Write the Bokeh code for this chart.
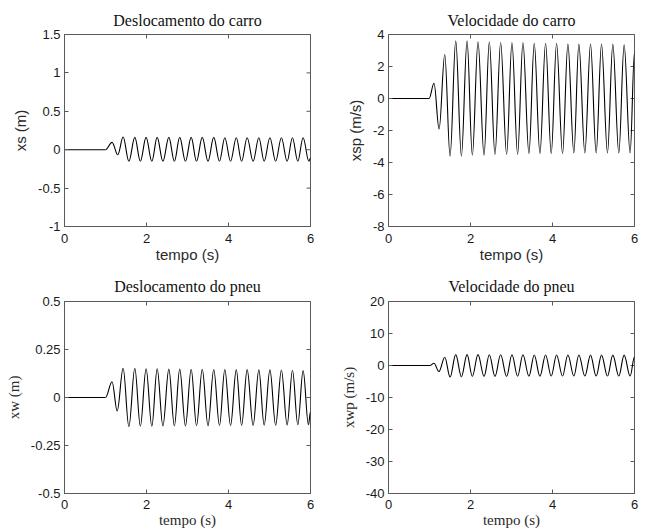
import numpy as np
from bokeh.plotting import figure
from bokeh.layouts import column, row
from bokeh.models import ColumnDataSource, FixedTicker, Range1d
from bokeh.embed import file_html
from bokeh.resources import INLINE

# ---------------- data (extrema) ----------------
x_ticks = [0, 2, 4, 6]
x_tick_labels = ["0", "2", "4", "6"]

# Deslocamento do carro  (xs)
xs_t = [0.0, 1.00, 1.16, 1.30, 1.43, 1.57, 1.715, 1.85, 1.99, 2.13, 2.26, 2.40,
        2.545, 2.68, 2.81, 2.95, 3.09, 3.22, 3.36, 3.50, 3.64, 3.78, 3.91, 4.05,
        4.19, 4.32, 4.455, 4.60, 4.74, 4.87, 5.01, 5.15, 5.29, 5.43, 5.56, 5.69,
        5.82, 5.96, 6.00]
xs_v = [0, 0, 0.095, -0.065, 0.165, -0.15, 0.16, -0.15, 0.16, -0.15, 0.16, -0.15,
        0.16, -0.15, 0.16, -0.15, 0.16, -0.15, 0.16, -0.15, 0.16, -0.15, 0.155, -0.15,
        0.155, -0.15, 0.155, -0.15, 0.155, -0.15, 0.155, -0.15, 0.155, -0.15, 0.155, -0.15,
        0.155, -0.15, -0.11]
xs_ticks = [-1, -0.5, 0, 0.5, 1, 1.5]
xs_tick_labels = ["-1", "-0.5", "0", "0.5", "1", "1.5"]

# Velocidade do carro  (xsp)
xsp_t = [0.0, 0.99, 1.11, 1.234, 1.372, 1.502, 1.64, 1.778, 1.916, 2.045, 2.183, 2.33,
         2.459, 2.597, 2.735, 2.881, 3.011, 3.149, 3.279, 3.425, 3.555, 3.693, 3.831, 3.969,
         4.099, 4.245, 4.375, 4.521, 4.643, 4.789, 4.927, 5.065, 5.195, 5.341, 5.471, 5.617,
         5.747, 5.893, 6.00]
xsp_v = [0, 0, 0.95, -1.9, 2.75, -3.6, 3.6, -3.6, 3.6, -3.55, 3.55, -3.55,
         3.55, -3.5, 3.5, -3.5, 3.5, -3.5, 3.5, -3.45, 3.45, -3.45, 3.45, -3.45,
         3.45, -3.45, 3.4, -3.4, 3.4, -3.4, 3.4, -3.4, 3.4, -3.4, 3.4, -3.4,
         3.35, -3.4, 2.9]
xsp_ticks = [-8, -6, -4, -2, 0, 2, 4]
xsp_tick_labels = ["-8", "-6", "-4", "-2", "0", "2", "4"]

# Deslocamento do pneu  (xw)
xw_t = [0.0, 1.00, 1.16, 1.285, 1.43, 1.57, 1.715, 1.85, 1.99, 2.13, 2.26, 2.40,
        2.545, 2.68, 2.81, 2.95, 3.09, 3.22, 3.36, 3.50, 3.64, 3.78, 3.91, 4.05,
        4.19, 4.32, 4.455, 4.60, 4.74, 4.87, 5.01, 5.15, 5.29, 5.43, 5.56, 5.69,
        5.82, 5.95, 6.00]
xw_v = [0, 0, 0.082, -0.07, 0.152, -0.152, 0.152, -0.15, 0.15, -0.15, 0.15, -0.148,
        0.148, -0.148, 0.148, -0.148, 0.147, -0.147, 0.147, -0.147, 0.146, -0.146, 0.146, -0.146,
        0.145, -0.145, 0.145, -0.145, 0.144, -0.144, 0.144, -0.144, 0.143, -0.143, 0.142, -0.142,
        0.14, -0.142, -0.075]
xw_ticks = [-0.5, -0.25, 0, 0.25, 0.5]
xw_tick_labels = ["-0.5", "-0.25", "0", "0.25", "0.5"]

# Velocidade do pneu  (xwp)
xwp_t = [0.0, 1.01, 1.11, 1.23, 1.372, 1.502, 1.64, 1.778, 1.916, 2.045, 2.183, 2.33,
         2.459, 2.597, 2.735, 2.881, 3.011, 3.149, 3.279, 3.425, 3.555, 3.693, 3.831, 3.969,
         4.099, 4.245, 4.375, 4.521, 4.643, 4.789, 4.927, 5.065, 5.195, 5.341, 5.471, 5.617,
         5.747, 5.893, 6.00]
xwp_v = [0, 0, 0.7, -1.9, 2.6, -3.6, 3.4, -3.5, 3.4, -3.4, 3.4, -3.4,
         3.35, -3.4, 3.35, -3.4, 3.35, -3.35, 3.35, -3.35, 3.3, -3.35, 3.3, -3.3,
         3.3, -3.3, 3.3, -3.3, 3.3, -3.3, 3.25, -3.3, 3.25, -3.3, 3.25, -3.3,
         3.25, -3.3, 2.7]
xwp_ticks = [-40, -30, -20, -10, 0, 10, 20]
xwp_tick_labels = ["-40", "-30", "-20", "-10", "0", "10", "20"]

# ---------------- styling ----------------
FRAME = "#5a5a5a"
SANS = "Liberation Sans"
SERIF = "Liberation Serif"
K = 1.0 - 2.0 / np.pi   # bezier handle fraction for smooth half-waves


def bezier_source(t, v):
    t = np.asarray(t, dtype=float)
    v = np.asarray(v, dtype=float)
    h = np.diff(t)
    return ColumnDataSource(dict(
        x0=t[:-1], y0=v[:-1], x1=t[1:], y1=v[1:],
        cx0=t[:-1] + K * h, cy0=v[:-1], cx1=t[1:] - K * h, cy1=v[1:]))


def style_axis(ax, ticks, labels, standoff):
    ax.ticker = FixedTicker(ticks=ticks)
    ax.axis_line_color = FRAME
    ax.major_tick_line_color = FRAME
    ax.major_tick_in = 4
    ax.major_tick_out = 0
    ax.minor_tick_in = 0
    ax.minor_tick_out = 0
    ax.major_label_overrides = dict(zip(ticks, labels))
    ax.major_label_text_font = SANS
    ax.major_label_text_font_size = "13px"
    ax.major_label_text_color = "#1a1a1a"
    ax.major_label_standoff = standoff


def panel(title, ylabel, t, v, ylo, yhi, yticks, ylabels, label_font, label_size,
          width, height, bl, br, bt, bb, tick_standoff, title_standoff):
    p = figure(width=width, height=height, output_backend="svg",
               toolbar_location=None, x_range=Range1d(0, 6),
               y_range=Range1d(ylo, yhi),
               min_border_left=bl, min_border_right=br,
               min_border_top=bt, min_border_bottom=bb)
    p.background_fill_color = "white"
    p.border_fill_color = "white"
    p.outline_line_color = FRAME
    p.outline_line_width = 1
    p.grid.visible = False

    p.title.text = title
    p.title.text_font = SERIF
    p.title.text_font_size = "16px"
    p.title.text_font_style = "normal"
    p.title.text_color = "#111111"
    p.title.align = "center"
    p.title.standoff = title_standoff

    style_axis(p.xaxis[0], x_ticks, x_tick_labels, tick_standoff)
    style_axis(p.yaxis[0], yticks, ylabels, 4)
    p.xaxis[0].axis_label = "tempo (s)"
    p.yaxis[0].axis_label = ylabel
    for ax in (p.xaxis[0], p.yaxis[0]):
        ax.axis_label_text_font = label_font
        ax.axis_label_text_font_size = label_size
        ax.axis_label_text_font_style = "normal"
        ax.axis_label_text_color = "#2a2a2a"
    p.xaxis[0].axis_label_standoff = 0
    p.yaxis[0].axis_label_standoff = 6

    # mirrored inward ticks on the top and right edges of the box
    p.scatter(x=x_ticks, y=[yhi] * len(x_ticks), marker="dash", size=8,
              angle=np.pi / 2, line_color=FRAME, line_width=1)
    p.scatter(x=[6] * len(yticks), y=yticks, marker="dash", size=8,
              line_color=FRAME, line_width=1)

    p.bezier(x0="x0", y0="y0", x1="x1", y1="y1", cx0="cx0", cy0="cy0",
             cx1="cx1", cy1="cy1", source=bezier_source(t, v),
             line_color="black", line_width=1.1)
    return p


p1 = panel("Deslocamento do carro", "xs (m)", xs_t, xs_v, -1, 1.5,
           xs_ticks, xs_tick_labels, SANS, "15px", 332, 266, 64, 22, 34, 40, 7, 12)
p2 = panel("Velocidade do carro", "xsp (m/s)", xsp_t, xsp_v, -8, 4,
           xsp_ticks, xsp_tick_labels, SANS, "15px", 308, 266, 56, 6, 34, 40, 7, 12)
p3 = panel("Deslocamento do pneu", "xw (m)", xw_t, xw_v, -0.5, 0.5,
           xw_ticks, xw_tick_labels, SERIF, "15px", 332, 265, 64, 22, 35, 38, 6, 14)
p4 = panel("Velocidade do pneu", "xwp (m/s)", xwp_t, xwp_v, -40, 20,
           xwp_ticks, xwp_tick_labels, SERIF, "15px", 308, 265, 56, 6, 35, 38, 6, 14)

layout = column(row(p1, p2), row(p3, p4))
open("out.html", "w").write(file_html(layout, INLINE))
